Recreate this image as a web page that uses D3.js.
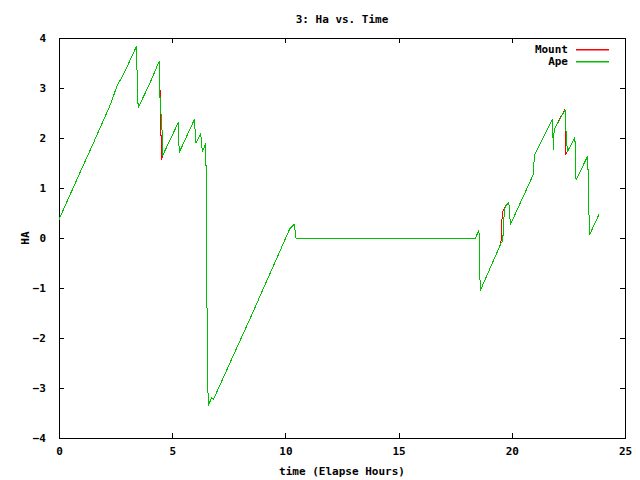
<!DOCTYPE html>
<html>
<head>
<meta charset="utf-8">
<script src="https://cdn.jsdelivr.net/npm/d3@7"></script>
<style>
  body { margin: 0; background: #fff; }
  svg text { font-family: "DejaVu Sans Mono", monospace; font-weight: bold; font-size: 11px; fill: #000; }
</style>
</head>
<body>
<div id="chart"></div>
<script>
// series: [elapsed hours, HA]
const mount = [
    [0.00, 0.37], [0.80, 1.18], [1.50, 1.88], [2.30, 2.70], [2.55, 3.03], [2.90, 3.32], [3.43, 3.84],
    [3.46, 2.93], [3.50, 2.61], [4.00, 3.08], [4.43, 3.54], [4.44, 3.33], [4.45, 3.04], [4.47, 2.90],
    [4.48, 2.06], [4.51, 2.06], [4.53, 1.56], [4.57, 1.64], [5.27, 2.31], [5.31, 1.71], [5.98, 2.37],
    [6.05, 1.91], [6.26, 2.08], [6.33, 1.73], [6.49, 1.89], [6.50, 0.60], [6.55, -2.04], [6.59, -3.36],
    [6.74, -3.19], [6.82, -3.23], [8.50, -1.55], [10.20, 0.19], [10.35, 0.26], [10.39, 0.27],
    [10.47, 0.00], [18.40, 0.00], [18.55, 0.16], [18.57, -0.46], [18.61, -1.05], [19.52, -0.11],
    [19.55, 0.31], [19.60, 0.53], [19.67, 0.60], [19.72, 0.64], [19.87, 0.71], [19.94, 0.27],
    [20.95, 1.27], [21.00, 1.66], [21.79, 2.37], [21.84, 1.76], [21.87, 2.17], [22.35, 2.58],
    [22.39, 1.69], [22.47, 1.74], [22.79, 2.01], [22.81, 1.37], [22.84, 1.16], [23.34, 1.63],
    [23.38, 1.24], [23.41, 0.46], [23.43, 0.06], [23.87, 0.49]
];
const ape = [
    [0.00, 0.37], [0.80, 1.18], [1.50, 1.88], [2.30, 2.70], [2.55, 3.03], [2.90, 3.32], [3.43, 3.84],
    [3.46, 2.93], [3.50, 2.61], [4.00, 3.08], [4.43, 3.54], [4.45, 2.90], [4.55, 2.16], [4.57, 1.64],
    [5.27, 2.31], [5.31, 1.71], [5.98, 2.37], [6.05, 1.91], [6.26, 2.08], [6.33, 1.73], [6.49, 1.89],
    [6.50, 0.60], [6.55, -2.04], [6.59, -3.36], [6.74, -3.19], [6.82, -3.23], [8.50, -1.55],
    [10.20, 0.19], [10.35, 0.26], [10.39, 0.27], [10.47, 0.00], [18.40, 0.00], [18.55, 0.16],
    [18.57, -0.46], [18.61, -1.05], [19.52, -0.11], [19.60, -0.05], [19.67, 0.53], [19.72, 0.64],
    [19.87, 0.71], [19.94, 0.27], [20.95, 1.27], [21.00, 1.66], [21.79, 2.37], [21.84, 1.76],
    [21.87, 2.17], [22.35, 2.56], [22.42, 1.90], [22.47, 1.74], [22.79, 2.01], [22.81, 1.37],
    [22.84, 1.16], [23.34, 1.63], [23.38, 1.24], [23.41, 0.46], [23.43, 0.06], [23.87, 0.49]
];
const xTicks = [0, 5, 10, 15, 20, 25];
const yTicks = [-4, -3, -2, -1, 0, 1, 2, 3, 4];
const seriesNames = ["Mount", "Ape"];
const seriesColors = ["#ff0000", "#00c000"];

const width = 640, height = 480;
const margin = { top: 38, right: 15, bottom: 42, left: 59 };
const tickLen = 5;

const svg = d3.select("#chart")
    .append("svg")
    .attr("width", width)
    .attr("height", height);

const x = d3.scaleLinear().domain([0, 25]).range([margin.left, width - margin.right]);
const y = d3.scaleLinear().domain([-4, 4]).range([height - margin.bottom, margin.top]);

// ticks inward on all four sides (mirrored like gnuplot)
const axisG = svg.append("g").attr("shape-rendering", "crispEdges");
axisG.append("g")
    .attr("transform", `translate(0,${y(-4)})`)
    .call(d3.axisBottom(x).tickValues(xTicks).tickSizeInner(-tickLen).tickSizeOuter(0).tickPadding(9));
axisG.append("g")
    .attr("transform", `translate(0,${y(4)})`)
    .call(d3.axisTop(x).tickValues(xTicks).tickSizeInner(-tickLen).tickSizeOuter(0).tickFormat(""));
axisG.append("g")
    .attr("transform", `translate(${x(0)},0)`)
    .call(d3.axisLeft(y).tickValues(yTicks).tickSizeInner(-tickLen).tickSizeOuter(0).tickPadding(13));
axisG.append("g")
    .attr("transform", `translate(${x(25)},0)`)
    .call(d3.axisRight(y).tickValues(yTicks).tickSizeInner(-tickLen).tickSizeOuter(0).tickFormat(""));

axisG.selectAll(".domain").remove();
axisG.selectAll(".tick line").attr("stroke", "#000");
axisG.selectAll("text")
    .attr("font-family", null)
    .attr("font-size", null)
    .attr("fill", "#000");

axisG.append("rect")
    .attr("x", x(0) + 0.5)
    .attr("y", y(4) + 0.5)
    .attr("width", x(25) - x(0))
    .attr("height", y(-4) - y(4))
    .attr("fill", "none")
    .attr("stroke", "#000");

const line = d3.line()
    .x(d => x(d[0]))
    .y(d => y(d[1]));

// mount first, ape drawn over it
[mount, ape].forEach((data, i) => {
    svg.append("path")
        .datum(data)
        .attr("d", line)
        .attr("fill", "none")
        .attr("stroke", seriesColors[i])
        .attr("stroke-width", 1)
        .attr("shape-rendering", "crispEdges");
});

// legend
seriesNames.forEach((name, i) => {
    const ly = 49 + i * 12;
    svg.append("text")
        .attr("x", 568)
        .attr("y", ly + 4)
        .attr("text-anchor", "end")
        .text(name);
    svg.append("rect")
        .attr("x", 576)
        .attr("y", ly)
        .attr("width", 33)
        .attr("height", 1.5)
        .attr("fill", seriesColors[i]);
});

svg.append("text")
    .attr("x", 342)
    .attr("y", 23)
    .attr("text-anchor", "middle")
    .text("3: Ha vs. Time");

svg.append("text")
    .attr("x", 342)
    .attr("y", 475)
    .attr("text-anchor", "middle")
    .text("time (Elapse Hours)");

svg.append("text")
    .attr("transform", `translate(29,${y(0)}) rotate(-90)`)
    .attr("text-anchor", "middle")
    .text("HA");
</script>
</body>
</html>
